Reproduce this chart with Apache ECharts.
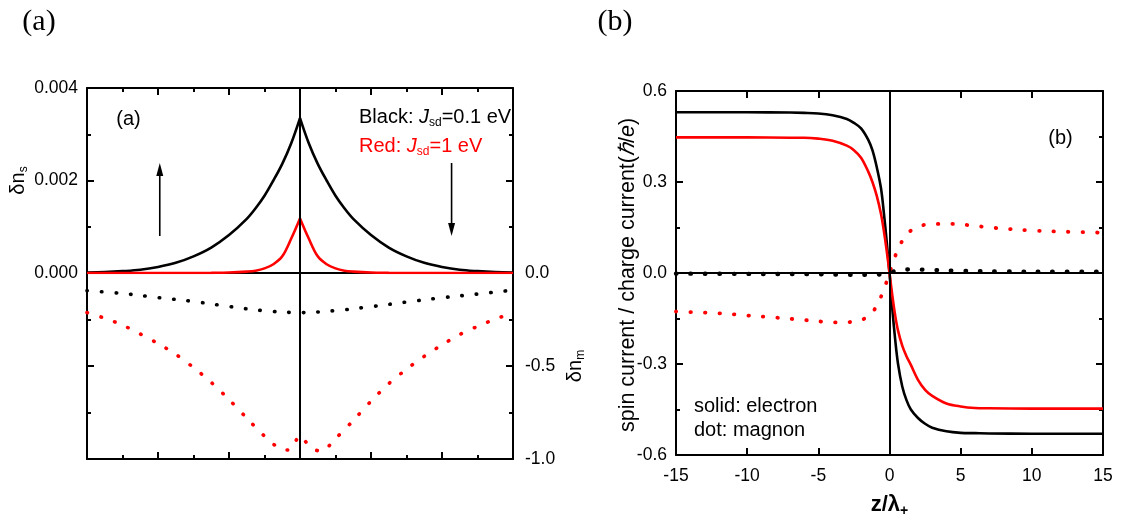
<!DOCTYPE html>
<html>
<head>
<meta charset="utf-8">
<script src="https://cdn.jsdelivr.net/npm/echarts@6/dist/echarts.min.js"></script>
<style>
html, body { margin: 0; padding: 0; background: #fff; }
#chart { width: 1123px; height: 523px; }
</style>
</head>
<body>
<div id="chart"></div>
<script>
// ---------- Panel (a): spin accumulation profiles ----------
const zA = [-6, -5.5, -5, -4.5, -4, -3.5, -3, -2.5, -2, -1.5, -1.25, -1, -0.75, -0.5, -0.25, 0,
            0.25, 0.5, 0.75, 1, 1.25, 1.5, 2, 2.5, 3, 3.5, 4, 4.5, 5, 5.5, 6];
// electron spin accumulation δn_s, J_sd = 0.1 eV
const dnsBlack = [0.00001, 0.00002, 0.00004, 0.00007, 0.00013, 0.00022, 0.00036, 0.00055, 0.00082, 0.00117, 0.0014, 0.00167, 0.002, 0.00236, 0.0028, 0.00335,
                  0.0028, 0.00236, 0.002, 0.00167, 0.0014, 0.00117, 0.00082, 0.00055, 0.00036, 0.00022, 0.00013, 0.00007, 0.00004, 0.00002, 0.00001];
// electron spin accumulation δn_s, J_sd = 1 eV
const dnsRed = [0, 0, 0, 0, 0, 0, 0, 0.000003, 0.00001, 0.00003, 0.00005, 0.0001, 0.00019, 0.00036, 0.00074, 0.00118,
                0.00074, 0.00036, 0.00019, 0.0001, 0.00005, 0.00003, 0.00001, 0.000003, 0, 0, 0, 0, 0, 0, 0];

// magnon accumulation δn_m
const zAmBlack = [-6, -5, -4, -3, -2, -1, 0, 1, 2, 3, 4, 5, 6];
const dnmBlack = [-0.095, -0.11, -0.132, -0.153, -0.18, -0.203, -0.213, -0.202, -0.181, -0.156, -0.133, -0.113, -0.092];
const zAmRed = [-6, -5.5, -5, -4.5, -4, -3.5, -3, -2.5, -2, -1.5, -1, -0.6, -0.3, 0, 0.3, 0.6,
                1, 1.5, 2, 2.5, 3, 3.5, 4, 4.5, 5, 5.5, 6];
const dnmRed = [-0.213, -0.243, -0.28, -0.328, -0.379, -0.437, -0.508, -0.588, -0.68, -0.78, -0.877, -0.94, -0.952, -0.875, -0.94, -0.958,
                -0.89, -0.793, -0.689, -0.595, -0.517, -0.448, -0.386, -0.331, -0.287, -0.248, -0.214];

// ---------- Panel (b): spin current profiles ----------
const zB = [-15, -10, -7, -6, -5, -4, -3, -2.5, -2, -1.5, -1.2, -0.9, -0.6, -0.4, -0.2, 0,
            0.2, 0.4, 0.6, 0.9, 1.2, 1.5, 2, 2.5, 3, 4, 5, 6, 7, 10, 15];
const jeBlack = [0.53, 0.53, 0.529, 0.528, 0.526, 0.52, 0.508, 0.495, 0.477, 0.44, 0.405, 0.35, 0.28, 0.2, 0.105, 0,
                 -0.12, -0.22, -0.3, -0.375, -0.42, -0.45, -0.478, -0.497, -0.51, -0.522, -0.527, -0.528, -0.529, -0.53, -0.53];
const jeRed = [0.447, 0.447, 0.446, 0.446, 0.443, 0.436, 0.42, 0.405, 0.38, 0.335, 0.3, 0.255, 0.195, 0.14, 0.075, 0,
               -0.075, -0.14, -0.19, -0.24, -0.275, -0.303, -0.352, -0.385, -0.405, -0.43, -0.44, -0.445, -0.446, -0.447, -0.447];

const zBmRed = [-15, -12, -10, -8, -6, -4.5, -3.3, -2.3, -1.6, -1.2, -0.8, -0.4, 0, 0.3, 0.7, 1.2, 2, 3, 4.2, 5.5, 7.3, 10, 12.5, 15];
const jmRed = [-0.127, -0.133, -0.14, -0.147, -0.155, -0.161, -0.163, -0.158, -0.147, -0.13, -0.099, -0.055, 0, 0.043, 0.088, 0.127, 0.153, 0.161, 0.162, 0.158, 0.149, 0.14, 0.136, 0.133];
const zBmBlack = [-15, -10, -5, -3, -1.5, -0.5, 0, 0.5, 1.5, 3, 5, 8, 12, 15];
const jmBlack = [-0.002, -0.003, -0.004, -0.006, -0.006, -0.004, 0, 0.008, 0.012, 0.01, 0.007, 0.005, 0.004, 0.004];

// axis tick labels
const ticksA_s = [0, 0.002, 0.004];
const ticksA_m = [-1, -0.5, 0];
const ticksB_y = [-0.6, -0.3, 0, 0.3, 0.6];
const ticksB_x = [-15, -10, -5, 0, 5, 10, 15];

const SANS = '"Liberation Sans", Arial, Helvetica, sans-serif';
const BLACK = '#000000';
const RED = '#ff0000';

const pairs = (xs, ys) => xs.map((x, i) => [x, ys[i]]);
const upTo = (xs, ys, z) => pairs(xs, ys).filter(p => p[0] <= z);
const from = (xs, ys, z) => pairs(xs, ys).filter(p => p[0] >= z);

function frameAxis(extra) {
  return Object.assign({
    type: 'value',
    axisLine: { show: true, onZero: false, lineStyle: { color: BLACK, width: 2 } },
    axisTick: { show: true, inside: true, length: 7, lineStyle: { color: BLACK, width: 2 } },
    minorTick: { show: false },
    axisLabel: { show: false },
    splitLine: { show: false },
    nameMoveOverlap: false
  }, extra);
}
const minor = { show: true, splitNumber: 2, length: 4, lineStyle: { color: BLACK, width: 2 } };
const labelStyle = { show: true, color: BLACK, fontFamily: SANS, fontSize: 17.5 };

const solid = (color) => ({ color: color, width: 2.6, type: 'solid' });
const dots = (color, w) => ({ color: color, width: w, type: [0.5, 14], cap: 'round' });

function curve(name, xIdx, yIdx, data, lineStyle, extra) {
  return Object.assign({
    name: name,
    type: 'line',
    xAxisIndex: xIdx,
    yAxisIndex: yIdx,
    data: data,
    showSymbol: false,
    symbol: 'none',
    smooth: 0.35,
    lineStyle: lineStyle,
    silent: true,
    z: 3
  }, extra || {});
}

function refLine(axisKey) {
  return {
    silent: true,
    symbol: 'none',
    label: { show: false },
    lineStyle: { color: BLACK, width: 2, type: 'solid' },
    emphasis: { disabled: true },
    data: [{ [axisKey]: 0 }]
  };
}

const subRich = (size) => ({
  m: { fontSize: size, fontFamily: SANS, lineHeight: size + 4 },
  i: { fontSize: size, fontFamily: SANS, fontStyle: 'italic', lineHeight: size + 4 },
  s: { fontSize: Math.round(size * 0.62), fontFamily: SANS, verticalAlign: 'bottom', lineHeight: Math.round(size * 0.62) }
});

const chart = echarts.init(document.getElementById('chart'), null, { renderer: 'canvas' });

const option = {
  animation: false,
  backgroundColor: '#ffffff',
  grid: [
    { left: 87, top: 88, width: 426, height: 185 },
    { left: 87, top: 273, width: 426, height: 186 },
    { left: 676, top: 91, width: 427, height: 368 }
  ],
  xAxis: [
    // (a) upper: zero line
    frameAxis({ gridIndex: 0, position: 'bottom', min: -6, max: 6, interval: 2, axisTick: { show: false } }),
    // (a) upper: top frame
    frameAxis({ gridIndex: 0, position: 'top', min: -6, max: 6, interval: 2, minorTick: minor }),
    // (a) lower: bottom frame
    frameAxis({ gridIndex: 1, position: 'bottom', min: -6, max: 6, interval: 2, minorTick: minor }),
    // (b) bottom
    frameAxis({
      gridIndex: 2, position: 'bottom', min: ticksB_x[0], max: ticksB_x[ticksB_x.length - 1], interval: 5,
      axisLabel: Object.assign({}, labelStyle, { margin: 12 }),
      name: '{m|z/λ}{s|+}',
      nameLocation: 'middle',
      nameGap: 37,
      nameTextStyle: {
        color: BLACK, fontFamily: SANS, fontWeight: 'bold', fontSize: 22,
        rich: {
          m: { fontSize: 22, fontFamily: SANS, fontWeight: 'bold', lineHeight: 26 },
          s: { fontSize: 14, fontFamily: SANS, fontWeight: 'bold', verticalAlign: 'bottom', lineHeight: 14 }
        }
      }
    }),
    // (b) top
    frameAxis({ gridIndex: 2, position: 'top', min: -15, max: 15, interval: 5 })
  ],
  yAxis: [
    // (a) δn_s, left
    frameAxis({
      gridIndex: 0, position: 'left', min: ticksA_s[0], max: ticksA_s[ticksA_s.length - 1], interval: 0.002,
      minorTick: minor,
      axisLabel: Object.assign({}, labelStyle, { margin: 9, formatter: v => v.toFixed(3) }),
      name: '{m|δn}{s|s}',
      nameLocation: 'middle',
      nameGap: 57,
      nameRotate: 90,
      nameTextStyle: { color: BLACK, fontFamily: SANS, fontSize: 20, rich: subRich(20) }
    }),
    // (a) upper right frame
    frameAxis({ gridIndex: 0, position: 'right', min: 0, max: 0.004, interval: 0.002, minorTick: minor }),
    // (a) lower left frame
    frameAxis({ gridIndex: 1, position: 'left', min: -1, max: 0, interval: 0.5, minorTick: minor }),
    // (a) δn_m, right
    frameAxis({
      gridIndex: 1, position: 'right', min: ticksA_m[0], max: ticksA_m[ticksA_m.length - 1], interval: 0.5,
      minorTick: minor,
      axisLabel: Object.assign({}, labelStyle, { margin: 12, formatter: v => v.toFixed(1) }),
      name: '{m|δn}{s|m}',
      nameLocation: 'middle',
      nameGap: 50,
      nameRotate: 90,
      nameTextStyle: { color: BLACK, fontFamily: SANS, fontSize: 20, rich: subRich(20) }
    }),
    // (b) left
    frameAxis({
      gridIndex: 2, position: 'left', min: ticksB_y[0], max: ticksB_y[ticksB_y.length - 1], interval: 0.3,
      minorTick: minor,
      axisLabel: Object.assign({}, labelStyle, { margin: 9, formatter: v => v.toFixed(1) })
    }),
    // (b) right frame
    frameAxis({ gridIndex: 2, position: 'right', min: -0.6, max: 0.6, interval: 0.3, minorTick: minor })
  ],
  graphic: [
    { type: 'text', x: 39, y: 22, style: { text: '(a)', font: '30px "Liberation Serif", "Times New Roman", serif', fill: BLACK, align: 'center', verticalAlign: 'middle' } },
    { type: 'text', x: 615, y: 22, style: { text: '(b)', font: '30px "Liberation Serif", "Times New Roman", serif', fill: BLACK, align: 'center', verticalAlign: 'middle' } },
    { type: 'text', x: 128.5, y: 119, style: { text: '(a)', font: '20px ' + SANS, fill: BLACK, align: 'center', verticalAlign: 'middle' } },
    { type: 'text', x: 1060.5, y: 138, style: { text: '(b)', font: '20px ' + SANS, fill: BLACK, align: 'center', verticalAlign: 'middle' } },
    {
      type: 'text', x: 359, y: 117,
      style: { text: '{m|Black: }{i|J}{s|sd}{m|=0.1 eV}', fill: BLACK, font: '20px ' + SANS, align: 'left', verticalAlign: 'middle', rich: subRich(20) }
    },
    {
      type: 'text', x: 359, y: 146,
      style: { text: '{m|Red: }{i|J}{s|sd}{m|=1 eV}', fill: RED, font: '20px ' + SANS, align: 'left', verticalAlign: 'middle', rich: subRich(20) }
    },
    { type: 'text', x: 694, y: 406, style: { text: 'solid: electron', font: '20px ' + SANS, fill: BLACK, align: 'left', verticalAlign: 'middle' } },
    { type: 'text', x: 694, y: 430, style: { text: 'dot: magnon', font: '20px ' + SANS, fill: BLACK, align: 'left', verticalAlign: 'middle' } },
    // (b) vertical axis title
    {
      type: 'text', x: 628, y: 275, rotation: Math.PI / 2,
      style: {
        text: '{m|spin current / charge current(}{i|ℏ}{m|/}{i|e}{m|)}',
        fill: BLACK, font: '21.5px ' + SANS, align: 'center', verticalAlign: 'middle',
        rich: {
          m: { fontSize: 21.5, fontFamily: SANS, lineHeight: 25 },
          i: { fontSize: 21.5, fontFamily: SANS, fontStyle: 'italic', lineHeight: 25 }
        }
      }
    }
  ],
  series: [
    // ---- (a) upper: δn_s ----
    curve('dns-black-left', 0, 0, upTo(zA, dnsBlack, 0), solid(BLACK), { markLine: refLine('xAxis') }),
    curve('dns-black-right', 0, 0, from(zA, dnsBlack, 0), solid(BLACK)),
    curve('dns-red-left', 0, 0, upTo(zA, dnsRed, 0), solid(RED)),
    curve('dns-red-right', 0, 0, from(zA, dnsRed, 0), solid(RED)),
    // arrows marking spin direction
    {
      type: 'line', xAxisIndex: 0, yAxisIndex: 0, silent: true, smooth: false,
      symbol: 'none', symbolSize: [7, 13],
      lineStyle: { color: BLACK, width: 1.6 }, itemStyle: { color: BLACK },
      data: [[-3.95, 0.0008], { value: [-3.95, 0.00224], symbol: 'triangle' }]
    },
    {
      type: 'line', xAxisIndex: 0, yAxisIndex: 0, silent: true, smooth: false,
      symbol: 'none', symbolSize: [7, 13],
      lineStyle: { color: BLACK, width: 1.6 }, itemStyle: { color: BLACK },
      data: [[4.27, 0.00238], { value: [4.27, 0.00094], symbol: 'triangle', symbolRotate: 180 }]
    },
    // ---- (a) lower: δn_m ----
    curve('dnm-black', 2, 2, pairs(zAmBlack, dnmBlack), dots(BLACK, 3.6), { markLine: refLine('xAxis') }),
    curve('dnm-red', 2, 2, pairs(zAmRed, dnmRed), dots(RED, 3.6), { smooth: 0.3 }),
    // ---- (b) ----
    curve('je-black', 3, 4, pairs(zB, jeBlack), solid(BLACK), {
      markLine: Object.assign(refLine('xAxis'), { data: [{ xAxis: 0 }, { yAxis: 0 }] })
    }),
    curve('je-red', 3, 4, pairs(zB, jeRed), solid(RED)),
    curve('jm-red', 3, 4, pairs(zBmRed, jmRed), dots(RED, 3.8)),
    curve('jm-black', 3, 4, pairs(zBmBlack, jmBlack), dots(BLACK, 4.4))
  ]
};

chart.setOption(option);
</script>
</body>
</html>
